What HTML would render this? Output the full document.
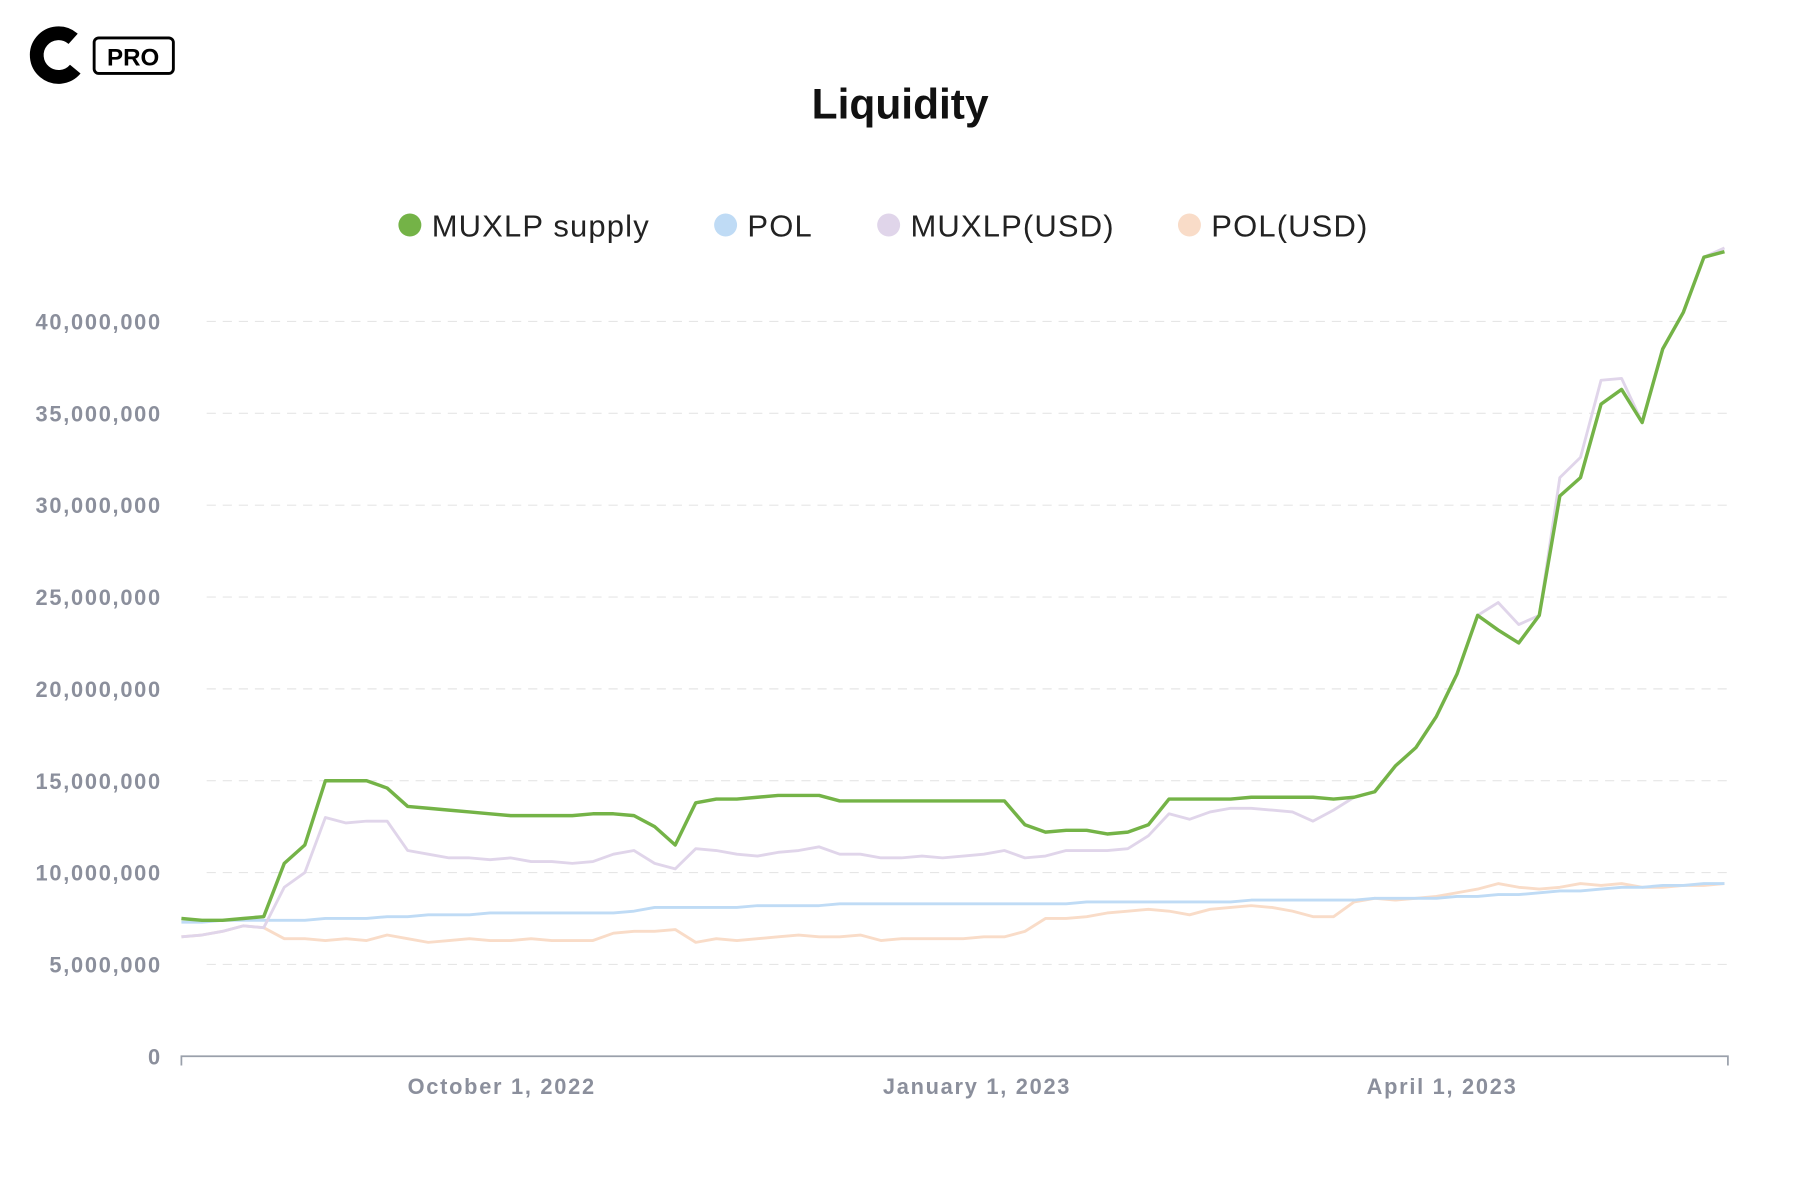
<!DOCTYPE html>
<html><head><meta charset="utf-8"><style>
html,body{margin:0;padding:0;background:#fff;}
svg{display:block;font-family:"Liberation Sans",sans-serif;}
</style></head><body>
<svg id="chart" width="1800" height="1186" viewBox="0 0 1567 1033" preserveAspectRatio="xMinYMin meet">
<g>
<circle cx="51" cy="48" r="19" fill="none" stroke="#000" stroke-width="12" stroke-dasharray="90 30" transform="rotate(40 51 48)"/>
<rect x="82" y="33" width="69" height="31" rx="4" fill="#fff" stroke="#000" stroke-width="2.5"/>
<text x="116" y="57" text-anchor="middle" font-size="21" font-weight="bold" fill="#000">PRO</text>
</g>
<text x="784" y="103" text-anchor="middle" font-size="37" font-weight="bold" fill="#111">Liquidity</text>
<g id="legend"></g>
<g id="grid"></g>
<g id="series"></g>
<g id="axes"></g>
</svg>
<script>
const ticksY=[0,5,10,15,20,25,30,35,40];
const tickLabelsY=["0","5,000,000","10,000,000","15,000,000","20,000,000","25,000,000","30,000,000","35,000,000","40,000,000"];
const xTickDays=[62,154,244];
const xTickLabels=["October 1, 2022","January 1, 2023","April 1, 2023"];
const seriesNames=["POL(USD)","POL","MUXLP(USD)","MUXLP supply"];
const muxlpSupply=[7.5,7.4,7.4,7.5,7.6,10.5,11.5,15.0,15.0,15.0,14.6,13.6,13.5,13.4,13.3,13.2,13.1,13.1,13.1,13.1,13.2,13.2,13.1,12.5,11.5,13.8,14.0,14.0,14.1,14.2,14.2,14.2,13.9,13.9,13.9,13.9,13.9,13.9,13.9,13.9,13.9,12.6,12.2,12.3,12.3,12.1,12.2,12.6,14.0,14.0,14.0,14.0,14.1,14.1,14.1,14.1,14.0,14.1,14.4,15.8,16.8,18.5,20.8,24.0,23.2,22.5,24.0,30.5,31.5,35.5,36.3,34.5,38.5,40.5,43.5,43.8];
const muxlpUsd=[6.5,6.6,6.8,7.1,7.0,9.2,10.0,13.0,12.7,12.8,12.8,11.2,11.0,10.8,10.8,10.7,10.8,10.6,10.6,10.5,10.6,11.0,11.2,10.5,10.2,11.3,11.2,11.0,10.9,11.1,11.2,11.4,11.0,11.0,10.8,10.8,10.9,10.8,10.9,11.0,11.2,10.8,10.9,11.2,11.2,11.2,11.3,12.0,13.2,12.9,13.3,13.5,13.5,13.4,13.3,12.8,13.4,14.1,14.4,15.8,16.8,18.5,20.8,24.0,24.7,23.5,24.0,31.5,32.6,36.8,36.9,34.5,38.5,40.5,43.5,44.0];
const pol=[7.3,7.3,7.4,7.4,7.4,7.4,7.4,7.5,7.5,7.5,7.6,7.6,7.7,7.7,7.7,7.8,7.8,7.8,7.8,7.8,7.8,7.8,7.9,8.1,8.1,8.1,8.1,8.1,8.2,8.2,8.2,8.2,8.3,8.3,8.3,8.3,8.3,8.3,8.3,8.3,8.3,8.3,8.3,8.3,8.4,8.4,8.4,8.4,8.4,8.4,8.4,8.4,8.5,8.5,8.5,8.5,8.5,8.5,8.6,8.6,8.6,8.6,8.7,8.7,8.8,8.8,8.9,9.0,9.0,9.1,9.2,9.2,9.3,9.3,9.4,9.4];
const polUsd=[6.5,6.6,6.8,7.1,7.0,6.4,6.4,6.3,6.4,6.3,6.6,6.4,6.2,6.3,6.4,6.3,6.3,6.4,6.3,6.3,6.3,6.7,6.8,6.8,6.9,6.2,6.4,6.3,6.4,6.5,6.6,6.5,6.5,6.6,6.3,6.4,6.4,6.4,6.4,6.5,6.5,6.8,7.5,7.5,7.6,7.8,7.9,8.0,7.9,7.7,8.0,8.1,8.2,8.1,7.9,7.6,7.6,8.4,8.6,8.5,8.6,8.7,8.9,9.1,9.4,9.2,9.1,9.2,9.4,9.3,9.4,9.2,9.2,9.3,9.3,9.4];
const colors={"MUXLP supply":"#74b347","POL":"#bfdbf5","MUXLP(USD)":"#e0d5ea","POL(USD)":"#f9dcc8"};
const seriesData={"MUXLP supply":muxlpSupply,"POL":pol,"MUXLP(USD)":muxlpUsd,"POL(USD)":polUsd};
const X0=158,X1=1505,Y0=920;
function yScale(v){return Y0-16*v;}
function xIndex(i,n){return X0+(1502-X0)*i/(n-1);}
function xDay(d){return X0+4.5*d;}
const NS="http://www.w3.org/2000/svg";
function mk(t,a,p){const e=document.createElementNS(NS,t);for(const k in a)e.setAttribute(k,a[k]);p.appendChild(e);return e;}
const grid=document.getElementById('grid'),axes=document.getElementById('axes'),ser=document.getElementById('series'),leg=document.getElementById('legend');
ticksY.forEach((v,i)=>{
  if(v>0){const l=mk('line',{x1:X0+22,x2:X1,y1:yScale(v),y2:yScale(v),stroke:'#e6e6e6','stroke-width':1,'stroke-dasharray':'8 6'},grid);
  
  }
  const t=mk('text',{x:141,y:yScale(v)+7,'text-anchor':'end','font-size':19,'letter-spacing':1.5,'font-weight':'bold',fill:'#8b8f9c'},axes);
  t.textContent=tickLabelsY[i];
  
  
});
const ax=mk('path',{d:`M${X0} 928V${Y0}H${X1}V928`,fill:'none',stroke:'#9aa0ab','stroke-width':1.5},axes);


xTickDays.forEach((d,i)=>{
  const t=mk('text',{x:xDay(d),y:953,'text-anchor':'middle','font-size':19,'letter-spacing':1.5,'font-weight':'bold',fill:'#8b8f9c'},axes);
  t.textContent=xTickLabels[i];
  
  
});
seriesNames.forEach(n=>{
  const arr=seriesData[n];
  const d=arr.map((v,i)=>(i?'L':'M')+xIndex(i,arr.length).toFixed(1)+' '+yScale(v).toFixed(1)).join('');
  const p=mk('path',{d:d,fill:'none',stroke:colors[n],'stroke-width':n==='MUXLP supply'?3:2.5,'stroke-linejoin':'round'},ser);
  
  
});
const legOrder=["MUXLP supply","POL","MUXLP(USD)","POL(USD)"];
const legX=[357,632,774,1036];
legOrder.forEach((n,i)=>{
  const g=mk('g',{},leg);
  
  
  mk('circle',{cx:legX[i],cy:196,r:10,fill:colors[n]},g);
  const t=mk('text',{x:legX[i]+19,y:206,'font-size':27,'letter-spacing':1,fill:'#222'},g);
  t.textContent=n;
});
</script>
</body></html>
